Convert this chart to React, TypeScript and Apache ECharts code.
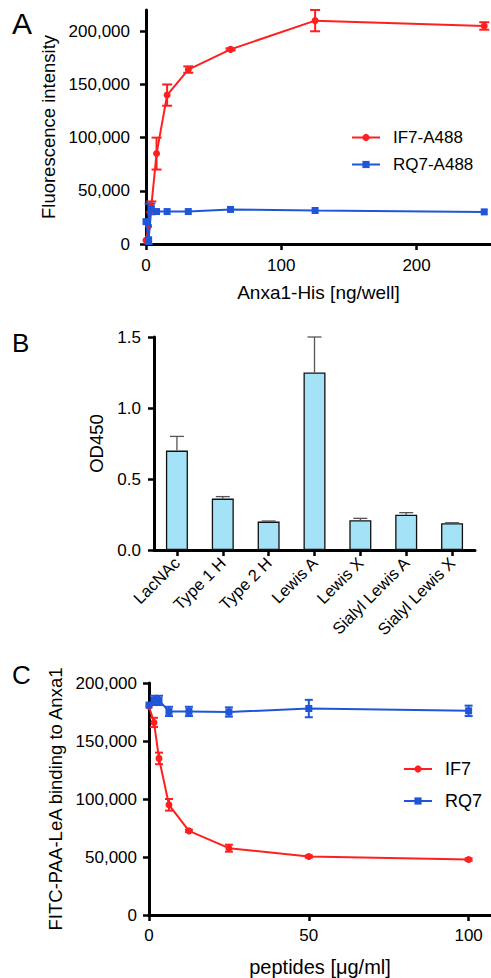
import React, { useEffect, useRef } from "react";
import * as echarts from "echarts";

// Panel A
const aDose = [0, 1.95, 3.9, 7.8, 15.6, 31.25, 62.5, 125, 250];
const aIF7 = [3500, 17000, 35000, 85000, 140000, 164000, 183000, 210000, 205000];
const aIF7Err = [0, 0, 5000, 15000, 10000, 3000, 1000, 10000, 3500];
const aRQ7 = [21000, 4000, 33000, 30500, 30500, 30500, 32500, 31500, 30200];
const aRQ7Err = [0, 34000, 5000, 0, 0, 0, 0, 0, 0];
const aXTicks = [0, 100, 200];
const aYTicks = [0, 50000, 100000, 150000, 200000];

// Panel B
const bCats = ["LacNAc", "Type 1 H", "Type 2 H", "Lewis A", "Lewis X", "Sialyl Lewis A", "Sialyl Lewis X"];
const bVals = [0.7, 0.362, 0.2, 1.25, 0.209, 0.249, 0.188];
const bErr = [0.1, 0.014, 0.004, 0.25, 0.014, 0.014, 0.004];

// Panel C
const cDose = [0, 1.5625, 3.125, 6.25, 12.5, 25, 50, 100];
const cIF7 = [180000, 166000, 135000, 95000, 72500, 57600, 50400, 47800];
const cIF7Err = [0, 4000, 5000, 5000, 1000, 3000, 1000, 1000];
const cRQ7 = [181000, 185000, 185000, 175500, 175500, 175000, 178000, 176000];
const cRQ7Err = [0, 4000, 4000, 4000, 4000, 4000, 7500, 4500];
const cXTicks = [0, 50, 100];
const cYTicks = [0, 50000, 100000, 150000, 200000];

const FONT = "Liberation Sans, Arial, Helvetica, sans-serif";
const RED = "#ff1f1f";
const BLUE = "#1f55d8";

const fmtNum = (v: number) => Math.round(v).toLocaleString("en-US");

function errSeries(xi: number, yi: number, xs: number[], ys: number[], es: number[], color: string, half: number, upOnly = false, lw = 2) {
  return {
    type: "custom",
    xAxisIndex: xi,
    yAxisIndex: yi,
    clip: false,
    silent: true,
    z: 3,
    data: xs.map((x, i) => [x, ys[i], es[i]]).filter((d) => d[2] > 0),
    renderItem: (params: any, api: any) => {
      const x = api.value(0);
      const y = api.value(1);
      const e = api.value(2);
      const top = api.coord([x, y + e]);
      const bot = upOnly ? api.coord([x, y]) : api.coord([x, Math.max(y - e, 0)]);
      const style = { stroke: color, lineWidth: lw, fill: "none" };
      const children: any[] = [
        { type: "line", shape: { x1: top[0], y1: top[1], x2: bot[0], y2: bot[1] }, style },
        { type: "line", shape: { x1: top[0] - half, y1: top[1], x2: top[0] + half, y2: top[1] }, style },
      ];
      if (!upOnly) {
        children.push({ type: "line", shape: { x1: bot[0] - half, y1: bot[1], x2: bot[0] + half, y2: bot[1] }, style });
      }
      return { type: "group", children };
    },
  };
}

function valueAxis(gi: number, min: number, max: number, ticks: number[], fmt: (v: number) => string, margin: number, extra: any = {}) {
  return {
    type: "value",
    gridIndex: gi,
    min,
    max,
    axisLine: { show: true, onZero: false, lineStyle: { color: "#000", width: 3 } },
    axisTick: { show: true, length: 6, lineStyle: { color: "#000", width: 2.5 }, customValues: ticks },
    axisLabel: { customValues: ticks, formatter: fmt, fontSize: 17, color: "#000", fontFamily: FONT, margin },
    splitLine: { show: false },
    nameLocation: "middle",
    nameTextStyle: { fontSize: 18.5, color: "#000", fontFamily: FONT },
    ...extra,
  };
}

export default function App() {
  const ref = useRef<HTMLDivElement>(null);
  useEffect(() => {
    if (!ref.current) return;
    const chart = echarts.init(ref.current, undefined, { renderer: "svg" });
    const option: any = {
      animation: false,
      backgroundColor: "#fff",
      textStyle: { fontFamily: FONT },
      grid: [
        { left: 146, top: 10, width: 345, height: 234 },
        { left: 154, top: 337, width: 321, height: 213 },
        { left: 149, top: 683, width: 342, height: 233 },
      ],
      xAxis: [
        valueAxis(0, 0, 255, aXTicks, (v) => String(v), 13, {
          name: "Anxa1-His [ng/well]",
          nameGap: 39,
          nameTextStyle: { fontSize: 19, color: "#000", fontFamily: FONT },
        }),
        {
          type: "category",
          gridIndex: 1,
          data: bCats,
          axisLine: { show: true, lineStyle: { color: "#000", width: 3 } },
          axisTick: { show: true, alignWithLabel: true, length: 6, lineStyle: { color: "#000", width: 2.5 } },
          axisLabel: { rotate: 45, fontSize: 16.5, color: "#000", fontFamily: FONT, margin: 10, interval: 0 },
        },
        valueAxis(2, 0, 107, cXTicks, (v) => String(v), 12, {
          name: "peptides [\u03bcg/ml]",
          nameGap: 42,
          nameTextStyle: { fontSize: 20, color: "#000", fontFamily: FONT },
        }),
      ],
      yAxis: [
        valueAxis(0, 0, 220000, aYTicks, fmtNum, 16, { name: "Fluorescence intensity", nameGap: 79 }),
        valueAxis(1, 0, 1.5, [0, 0.5, 1, 1.5], (v) => v.toFixed(1), 13, { name: "OD450", nameGap: 35 }),
        valueAxis(2, 0, 200000, cYTicks, fmtNum, 12, { name: "FITC-PAA-LeA binding to Anxa1", nameGap: 82 }),
      ],
      legend: [
        {
          data: ["IF7-A488", "RQ7-A488"],
          orient: "vertical",
          left: 346,
          top: 124,
          itemWidth: 28,
          itemHeight: 9,
          itemGap: 10,
          textStyle: { fontSize: 17, color: "#000", fontFamily: FONT, padding: [0, 0, 0, 8] },
        },
        {
          data: ["IF7", "RQ7"],
          orient: "vertical",
          left: 398,
          top: 755,
          itemWidth: 28,
          itemHeight: 9,
          itemGap: 14,
          textStyle: { fontSize: 18, color: "#000", fontFamily: FONT, padding: [0, 0, 0, 8] },
        },
      ],
      graphic: [
        { type: "text", left: 12, top: 8, style: { text: "A", fontSize: 30, fill: "#000", fontFamily: FONT } },
        { type: "text", left: 12, top: 330, style: { text: "B", fontSize: 26, fill: "#000", fontFamily: FONT } },
        { type: "text", left: 12, top: 662, style: { text: "C", fontSize: 26, fill: "#000", fontFamily: FONT } },
      ],
      series: [
        errSeries(0, 0, aDose, aIF7, aIF7Err, RED, 5),
        {
          name: "IF7-A488",
          type: "line",
          xAxisIndex: 0,
          yAxisIndex: 0,
          data: aDose.map((x, i) => [x, aIF7[i]]),
          symbol: "circle",
          symbolSize: 7,
          lineStyle: { color: RED, width: 2 },
          itemStyle: { color: RED },
          z: 4,
        },
        errSeries(0, 0, aDose, aRQ7, aRQ7Err, BLUE, 4),
        {
          name: "RQ7-A488",
          type: "line",
          xAxisIndex: 0,
          yAxisIndex: 0,
          data: aDose.map((x, i) => [x, aRQ7[i]]),
          symbol: "rect",
          symbolSize: 7,
          lineStyle: { color: BLUE, width: 2 },
          itemStyle: { color: BLUE },
          z: 5,
        },
        {
          name: "OD450",
          type: "bar",
          xAxisIndex: 1,
          yAxisIndex: 1,
          data: bVals,
          barWidth: 22,
          itemStyle: { color: "#a3e2f7", borderColor: "#111", borderWidth: 1.3 },
        },
        errSeries(1, 1, bVals.map((_, i) => i), bVals, bErr, "#555", 7, true, 1.3),
        errSeries(2, 2, cDose, cIF7, cIF7Err, RED, 4),
        {
          name: "IF7",
          type: "line",
          xAxisIndex: 2,
          yAxisIndex: 2,
          data: cDose.map((x, i) => [x, cIF7[i]]),
          symbol: "circle",
          symbolSize: 7,
          lineStyle: { color: RED, width: 2 },
          itemStyle: { color: RED },
          z: 4,
        },
        errSeries(2, 2, cDose, cRQ7, cRQ7Err, BLUE, 4),
        {
          name: "RQ7",
          type: "line",
          xAxisIndex: 2,
          yAxisIndex: 2,
          data: cDose.map((x, i) => [x, cRQ7[i]]),
          symbol: "rect",
          symbolSize: 7,
          lineStyle: { color: BLUE, width: 2 },
          itemStyle: { color: BLUE },
          z: 5,
        },
      ],
    };
    chart.setOption(option);
    return () => chart.dispose();
  }, []);
  return <div ref={ref} style={{ position: "fixed", left: 0, top: 0, width: 491, height: 978 }} />;
}
